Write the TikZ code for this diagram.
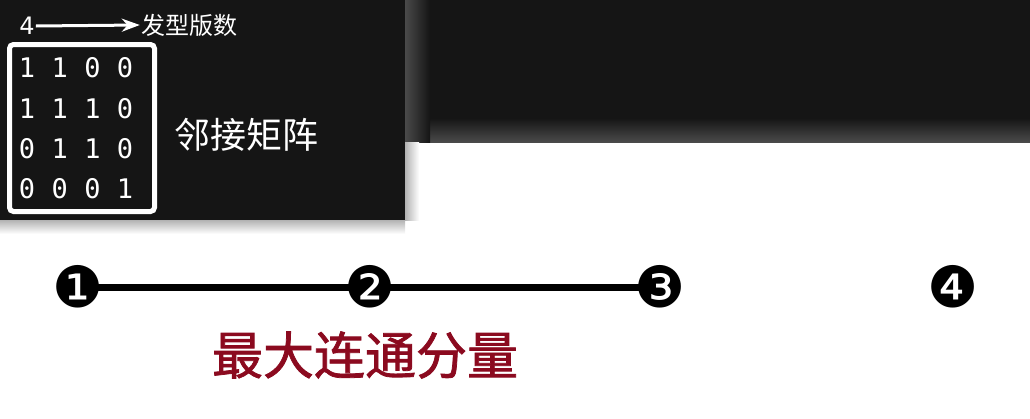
\documentclass[tikz,border=0pt]{standalone}
\usepackage{fontspec}
\setmainfont{DejaVu Sans}
\newfontfamily\cjkfont{Noto Sans CJK SC}
\newfontfamily\titlefont[FakeBold=1.5]{Noto Sans CJK SC}
\newfontfamily\monofont{DejaVu Sans Mono}
\newfontfamily\dingfont{DejaVu Sans}
\usetikzlibrary{arrows.meta, positioning, calc}
\definecolor{mpanel}{HTML}{151515}
\definecolor{mshade}{HTML}{4A4A4A}
\definecolor{mtitle}{HTML}{8B0A1F}
\tikzset{
  cell/.style={text=white, font=\monofont\fontsize{27}{27}\selectfont, inner sep=0pt},
  vnode/.style={font=\dingfont\fontsize{57}{57}\selectfont, inner sep=0pt},
  link/.style={line width=7pt, black, shorten <=-6pt, shorten >=-6pt},
  wlabel/.style={text=white, inner sep=1pt},
}

\begin{document}
\begin{tikzpicture}[
    x=1pt, y=-1pt,
    matbox/.style={draw=white, line width=5pt, rounded corners=4pt,
                   minimum width=145pt, minimum height=167pt},
    titlebox/.style={font=\titlefont\fontsize{51}{51}\selectfont, inner sep=0pt}
  ]
  \useasboundingbox (0,0) rectangle (1030,418);

  % Panels
  \fill[mpanel] (405,0) rectangle (1030,142);
  \shade[top color=mpanel, bottom color=mshade] (405,118) rectangle (1030,142);
  \shade[left color=mshade, right color=mpanel] (405,0) rectangle (430,142);
  \shade[top color=black!30, bottom color=white] (0,220) rectangle (405,234);
  \shade[left color=black!30, right color=white] (405,142) rectangle (419,220);
  \fill[mpanel] (0,0) rectangle (405,220);

  % Matrix
  \node[matbox] (adj) at (82,128) {};
  \foreach \row [count=\i] in {{1,1,0,0},{1,1,1,0},{0,1,1,0},{0,0,0,1}}
    \foreach \v [count=\j] in \row
      \node[cell] (c\i\j) at ({27+32.7*(\j-1)}, {68+40.3*(\i-1)}) {\v};
  \node[wlabel, font=\cjkfont\fontsize{36}{36}\selectfont] (adjname) at (246,135) {邻接矩阵};

  % Order
  \node[wlabel, font=\fontsize{24}{24}\selectfont] (order) at (27,26) {4};
  \node[wlabel, font=\cjkfont\fontsize{24}{24}\selectfont] (ordername) at (189,25) {发型版数};
  \draw[-{Stealth[length=18pt, width=13pt]}, white, line width=3pt] (order.east) -- (ordername.west);

  % Graph
  \node[vnode] (v1) at (78,287) {❶};
  \node[vnode] (v2) at (370,287) {❷};
  \node[vnode] (v3) at (660,287) {❸};
  \node[vnode] (v4) at (953,287) {❹};
  \draw[link] (v1) -- (v2);
  \draw[link] (v2) -- (v3);

  % Title
  \node[titlebox, text=mtitle] (title) at (365,355) {最大连通分量};
\end{tikzpicture}
\end{document}
